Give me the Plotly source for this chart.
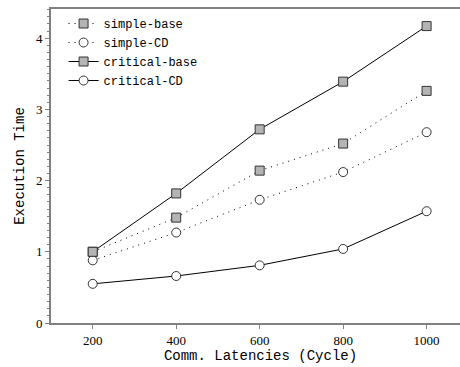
import plotly.graph_objects as go

latencies = [200, 400, 600, 800, 1000]
simple_base = [1.00, 1.48, 2.14, 2.52, 3.26]
simple_cd = [0.88, 1.27, 1.73, 2.12, 2.68]
critical_base = [1.00, 1.82, 2.72, 3.39, 4.17]
critical_cd = [0.55, 0.66, 0.81, 1.04, 1.57]

series = [
    ("simple-base", simple_base, "1px,5px", "square", "#b4b4b4"),
    ("simple-CD", simple_cd, "1px,5px", "circle", "white"),
    ("critical-base", critical_base, "solid", "square", "#b4b4b4"),
    ("critical-CD", critical_cd, "solid", "circle", "white"),
]

serif = "Liberation Serif, Times New Roman, serif"
mono = "Liberation Mono, Courier New, monospace"

fig = go.Figure()
for name, vals, dash, sym, fill in series:
    fig.add_trace(go.Scatter(
        x=latencies, y=vals, name=name, mode="lines+markers",
        line=dict(color="black", width=1, dash=dash),
        marker=dict(symbol=sym, size=9, color=fill,
                    line=dict(color="#333333", width=1)),
    ))

axis_col = "#808080"
fig.update_layout(
    width=470, height=367,
    margin=dict(l=51, r=0, t=9, b=44, autoexpand=False),
    plot_bgcolor="white", paper_bgcolor="white",
    showlegend=True,
    legend=dict(x=0.03, y=1.0, xanchor="left", yanchor="top",
                bgcolor="rgba(0,0,0,0)",
                font=dict(family=mono, size=12, color="black"),
                tracegroupgap=0, itemwidth=30),
    xaxis=dict(range=[100, 1104], tickvals=latencies, automargin=False,
               ticks="outside", ticklen=4, tickcolor=axis_col,
               showline=True, linecolor=axis_col, linewidth=2, mirror=True,
               showgrid=False, zeroline=False,
               tickfont=dict(family=serif, size=13, color="black"),
               title=dict(text="Comm. Latencies (Cycle)", standoff=4,
                          font=dict(family=mono, size=14, color="black"))),
    yaxis=dict(range=[0, 4.41], tickvals=[0, 1, 2, 3, 4], automargin=False,
               ticks="outside", ticklen=4, tickcolor=axis_col,
               showline=True, linecolor=axis_col, linewidth=2,
               showgrid=False, zeroline=False,
               minor=dict(dtick=0.1, ticks="outside", ticklen=2, tickcolor=axis_col, showgrid=False),
               tickfont=dict(family=serif, size=13, color="black"),
               title=dict(text="Execution Time", standoff=8,
                          font=dict(family=mono, size=14, color="black"))),
)

fig.write_html("out.html", config={"displayModeBar": False},
               post_script="document.body.style.margin='0';document.body.style.overflow='hidden';")
